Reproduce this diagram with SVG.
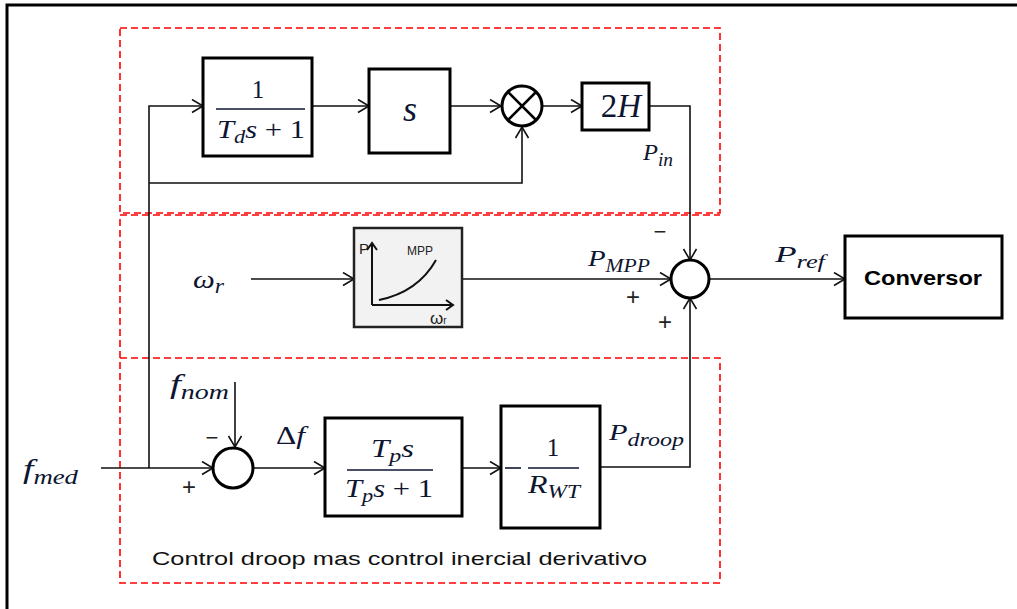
<svg xmlns="http://www.w3.org/2000/svg" width="1017" height="609" viewBox="0 0 1017 609">
<style>
.blk{fill:#fff;stroke:#000;stroke-width:3}
.sum{fill:#fff;stroke:#000;stroke-width:3}
.ln{fill:none;stroke:#111;stroke-width:1.6}
.dash{fill:none;stroke:#ff0000;stroke-width:1.6;stroke-dasharray:7,4}
.m{font-family:"Liberation Serif","DejaVu Serif",serif;font-style:italic;fill:#0d1530}
.n{font-family:"Liberation Serif","DejaVu Serif",serif;fill:#0d1530}
.sg{font-family:"Liberation Sans",Arial,sans-serif;fill:#222}
.s{font-family:"Liberation Sans",Arial,sans-serif}
</style>
<defs>
<marker id="ar" markerUnits="userSpaceOnUse" markerWidth="14" markerHeight="16" refX="12" refY="7" orient="auto" viewBox="0 0 14 16">
<path d="M1,0.5 L12,7 L1,13.5" fill="none" stroke="#111" stroke-width="1.6"/>
</marker>
</defs>
<rect width="1017" height="609" fill="#fff"/>
<path d="M7,609 V5 H1017" fill="none" stroke="#000" stroke-width="3"/>

<g id="regions">
<rect class="dash" x="120" y="28" width="600" height="185"/>
<path class="dash" d="M120,358 V215 H720"/>
<rect class="dash" x="120" y="358" width="600" height="225"/>
<text class="s" x="152" y="565" font-size="19" fill="#111" textLength="495" lengthAdjust="spacingAndGlyphs">Control droop mas control inercial derivativo</text>
</g>

<g id="connectors">
<path class="ln" d="M149,468 V106 H203" marker-end="url(#ar)"/>
<path class="ln" d="M149,183 H522 V127" marker-end="url(#ar)"/>
<path class="ln" d="M312,106 H369" marker-end="url(#ar)"/>
<path class="ln" d="M450,106 H501" marker-end="url(#ar)"/>
<path class="ln" d="M543,106 H582" marker-end="url(#ar)"/>
<path class="ln" d="M649,106 H690 V260" marker-end="url(#ar)"/>
<path class="ln" d="M251,279 H354" marker-end="url(#ar)"/>
<path class="ln" d="M462,279 H671" marker-end="url(#ar)"/>
<path class="ln" d="M709,279 H845" marker-end="url(#ar)"/>
<path class="ln" d="M600,467 H690 V298" marker-end="url(#ar)"/>
<path class="ln" d="M101,468 H213" marker-end="url(#ar)"/>
<path class="ln" d="M235,382 V447" marker-end="url(#ar)"/>
<path class="ln" d="M253,468 H325" marker-end="url(#ar)"/>
<path class="ln" d="M462,468 H501" marker-end="url(#ar)"/>
</g>

<g id="lowpass">
<rect class="blk" x="203" y="58" width="109" height="98"/>
<text class="n" x="258" y="98" font-size="25" text-anchor="middle">1</text>
<line x1="216" y1="109" x2="305" y2="109" stroke="#0d1530" stroke-width="1.5"/>
<text class="m" x="217" y="138" font-size="26" textLength="88" lengthAdjust="spacingAndGlyphs">T<tspan font-size="19" dy="5">d</tspan><tspan dy="-5">s </tspan><tspan font-style="normal">+ 1</tspan></text>
</g>

<g id="deriv">
<rect class="blk" x="369" y="69" width="81" height="84"/>
<text class="m" x="410" y="121" font-size="36" text-anchor="middle">s</text>
</g>

<g id="mult">
<circle class="sum" cx="522" cy="106" r="20"/>
<path d="M508,92 L536,120 M536,92 L508,120" stroke="#000" stroke-width="2.5"/>
</g>

<g id="gain2h">
<rect class="blk" x="582" y="83" width="67" height="47"/>
<text class="n" x="621" y="117" font-size="33" text-anchor="middle"><tspan>2</tspan><tspan font-style="italic">H</tspan></text>
<text class="m" x="643" y="160" font-size="24" textLength="30" lengthAdjust="spacingAndGlyphs">P<tspan font-size="19" dy="6">in</tspan></text>
</g>

<g id="mpp">
<text class="m" x="193" y="288" font-size="26" textLength="31" lengthAdjust="spacingAndGlyphs">ω<tspan font-size="20" dy="5">r</tspan></text>
<rect x="354" y="228" width="108" height="99" fill="#f2f2f2" stroke="#222" stroke-width="2.5"/>
<path d="M372,305 V243 M372,305 H453" fill="none" stroke="#111" stroke-width="2"/>
<path d="M367,250 L372,243 L377,250 M446,300 L453,305 L446,310" fill="none" stroke="#111" stroke-width="2"/>
<path d="M379,300 Q418,292 436,260" fill="none" stroke="#111" stroke-width="2"/>
<text class="s" x="359" y="254" font-size="15" fill="#222">P</text>
<text class="s" x="407" y="255" font-size="12" fill="#222">MPP</text>
<text class="s" x="430" y="324" font-size="17" fill="#222">ω<tspan font-size="10">r</tspan></text>
<text class="m" x="588" y="266" font-size="24" textLength="62" lengthAdjust="spacingAndGlyphs">P<tspan font-size="18" dy="6">MPP</tspan></text>
</g>

<g id="sum2">
<circle class="sum" cx="690" cy="279" r="19"/>
<text class="sg" x="660" y="239" font-size="22" text-anchor="middle">−</text>
<text class="sg" x="633" y="305" font-size="24" text-anchor="middle">+</text>
<text class="sg" x="665" y="330" font-size="24" text-anchor="middle">+</text>
<text class="m" x="775" y="262" font-size="24" textLength="50" lengthAdjust="spacingAndGlyphs">P<tspan font-size="18" dy="6">ref</tspan></text>
</g>

<g id="conversor">
<rect class="blk" x="845" y="236" width="157" height="82"/>
<text class="s" x="923" y="285" font-size="21" font-weight="bold" text-anchor="middle" fill="#000" textLength="118" lengthAdjust="spacingAndGlyphs">Conversor</text>
</g>

<g id="sum1">
<text class="m" x="23" y="478" font-size="28" textLength="55" lengthAdjust="spacingAndGlyphs">f<tspan font-size="20" dy="6">med</tspan></text>
<text class="m" x="170" y="393" font-size="28" textLength="59" lengthAdjust="spacingAndGlyphs">f<tspan font-size="20" dy="6">nom</tspan></text>
<circle class="sum" cx="233" cy="468" r="20"/>
<text class="sg" x="212" y="445" font-size="22" text-anchor="middle">−</text>
<text class="sg" x="189" y="495" font-size="24" text-anchor="middle">+</text>
<text class="n" x="276" y="444" font-size="25" textLength="29" lengthAdjust="spacingAndGlyphs">Δ<tspan font-style="italic">f</tspan></text>
</g>

<g id="washout">
<rect class="blk" x="325" y="418" width="137" height="98"/>
<text class="m" x="371" y="457" font-size="26" textLength="43" lengthAdjust="spacingAndGlyphs">T<tspan font-size="19" dy="5">p</tspan><tspan dy="-5">s</tspan></text>
<line x1="347" y1="470" x2="433" y2="470" stroke="#0d1530" stroke-width="1.5"/>
<text class="m" x="345" y="497" font-size="26" textLength="88" lengthAdjust="spacingAndGlyphs">T<tspan font-size="19" dy="5">p</tspan><tspan dy="-5">s </tspan><tspan font-style="normal">+ 1</tspan></text>
</g>

<g id="droop">
<rect class="blk" x="501" y="406" width="99" height="122"/>
<line x1="505" y1="468" x2="521" y2="468" stroke="#0d1530" stroke-width="1.6"/>
<text class="n" x="553" y="456" font-size="25" text-anchor="middle">1</text>
<line x1="528" y1="468" x2="579" y2="468" stroke="#0d1530" stroke-width="1.5"/>
<text class="m" x="528" y="493" font-size="26" textLength="52" lengthAdjust="spacingAndGlyphs">R<tspan font-size="19" dy="5">WT</tspan></text>
<text class="m" x="609" y="440" font-size="24" textLength="75" lengthAdjust="spacingAndGlyphs">P<tspan font-size="19" dy="6">droop</tspan></text>
</g>
</svg>
